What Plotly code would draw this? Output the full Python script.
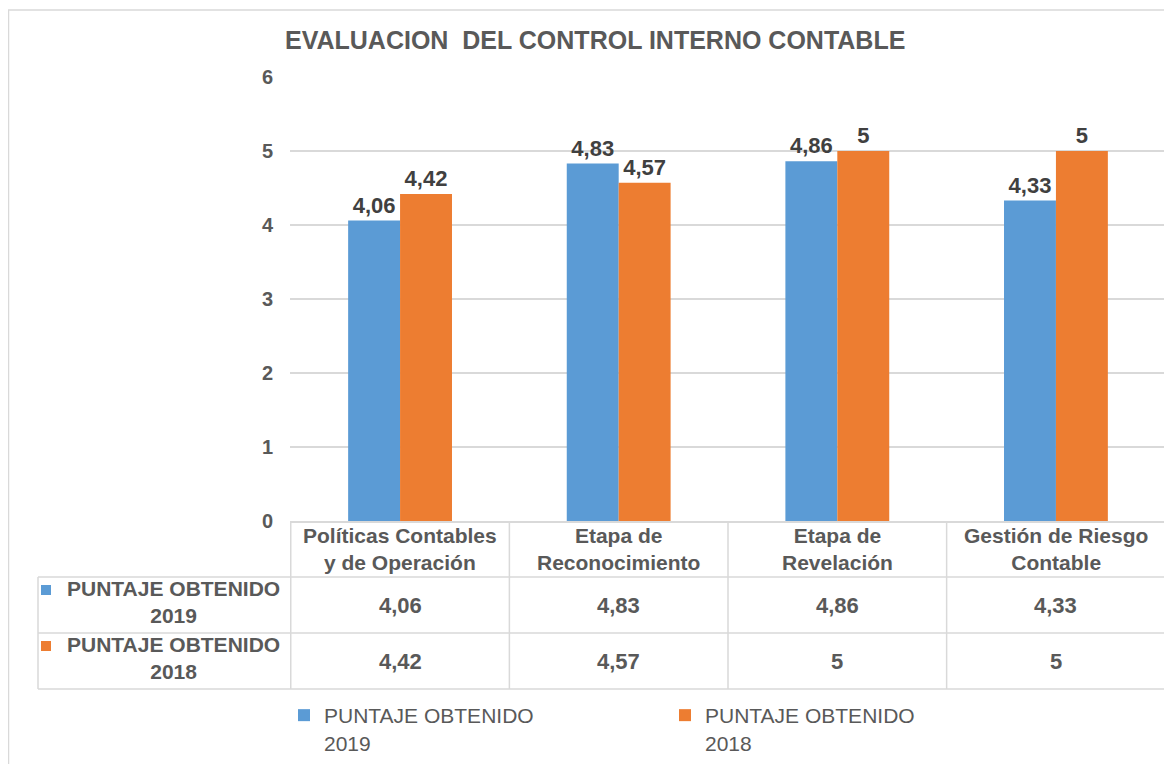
import plotly.graph_objects as go

# ---- data ----
categories = ["Políticas Contables y de Operación", "Etapa de Reconocimiento",
              "Etapa de Revelación", "Gestión de Riesgo Contable"]
category_labels = ["Políticas Contables<br>y de Operación", "Etapa de<br>Reconocimiento",
                   "Etapa de<br>Revelación", "Gestión de Riesgo<br>Contable"]
series_names = ["PUNTAJE OBTENIDO 2019", "PUNTAJE OBTENIDO 2018"]
series_labels = ["PUNTAJE OBTENIDO<br>2019", "PUNTAJE OBTENIDO<br>2018"]
values_2019 = [4.06, 4.83, 4.86, 4.33]
values_2018 = [4.42, 4.57, 5, 5]
y_ticks = [0, 1, 2, 3, 4, 5, 6]
title_text = "EVALUACION\u00a0 DEL CONTROL INTERNO CONTABLE"

# ---- style ----
OFF = 8                      # page body margin of the html page
W, H = 1172 - OFF, 764 - OFF
BLUE, ORANGE = "#5B9BD5", "#ED7D31"
TXT, LBL, GRID = "#595959", "#404040", "#D9D9D9"
FONT = "Liberation Sans, Arial, sans-serif"
FS = 21


def px(x):
    return (x - OFF) / W


def py(y):
    return 1 - (y - OFF) / H


def fmt(v):
    return f"{v:g}".replace(".", ",")


series = [values_2019, values_2018]
colors = [BLUE, ORANGE]

fig = go.Figure()
for label, vals, col in zip(series_labels, series, colors):
    fig.add_trace(go.Bar(
        x=categories, y=vals, name=label, marker_color=col,
        marker_line_width=0,
        text=[fmt(v) for v in vals], textposition="outside",
        textfont=dict(family=FONT, size=22, color=LBL, weight="bold"),
        cliponaxis=False, hoverinfo="skip",
    ))

shapes = []
annotations = []
LINE = dict(color=GRID, width=1.5)

# outer chart border
shapes.append(dict(type="rect", xref="paper", yref="paper",
                   x0=px(8.5), x1=px(1170), y0=py(770), y1=py(10),
                   line=dict(color=GRID, width=1.5)))

# data table grid
row_lines = [577, 633, 689]
for yl in row_lines:
    shapes.append(dict(type="line", xref="paper", yref="paper",
                       x0=px(38), x1=px(1166), y0=py(yl), y1=py(yl), line=LINE))
shapes.append(dict(type="line", xref="paper", yref="paper",
                   x0=px(38), x1=px(38), y0=py(577), y1=py(689), line=LINE))
for i in range(len(categories) + 1):
    shapes.append(dict(type="line", xref="x", yref="paper",
                       x0=i - 0.5, x1=i - 0.5, y0=py(521), y1=py(689), line=LINE))

# header labels
for cat, lab in zip(categories, category_labels):
    annotations.append(dict(xref="x", yref="paper", x=cat, y=py(549), text=lab,
                            showarrow=False, xanchor="center", yanchor="middle",
                            font=dict(family=FONT, size=FS, color=TXT, weight="bold")))

# table values and row headers
row_centers = [605, 661]
for vals, yc, lab, col in zip(series, row_centers, series_labels, colors):
    for cat, v in zip(categories, vals):
        annotations.append(dict(xref="x", yref="paper", x=cat, y=py(yc), text=fmt(v),
                                showarrow=False, xanchor="center", yanchor="middle",
                                font=dict(family=FONT, size=22, color=TXT, weight="bold")))
    annotations.append(dict(xref="paper", yref="paper", x=px(173), y=py(yc - 3), text=lab,
                            showarrow=False, xanchor="center", yanchor="middle",
                            align="center",
                            font=dict(family=FONT, size=FS, color=TXT, weight="bold")))
    shapes.append(dict(type="rect", xref="paper", yref="paper",
                       x0=px(41), x1=px(51), y0=py(yc - 10), y1=py(yc - 20),
                       fillcolor=col, line=dict(width=0)))

# title
annotations.append(dict(xref="paper", yref="paper", x=px(595), y=py(40), text=title_text,
                        showarrow=False, xanchor="center", yanchor="middle",
                        font=dict(family=FONT, size=25, color=TXT, weight="bold")))

fig.update_layout(
    width=W, height=H,
    margin=dict(l=0, r=0, t=0, b=0, autoexpand=False),
    paper_bgcolor="white", plot_bgcolor="white",
    separators=",.",
    barmode="group", bargap=0.525, bargroupgap=0,
    showlegend=True,
    legend=dict(orientation="h", x=px(284), y=py(695), xanchor="left", yanchor="top",
                valign="top",
                entrywidthmode="pixels", entrywidth=336,
                font=dict(family=FONT, size=FS, color=TXT),
                itemclick=False, itemdoubleclick=False),
    xaxis=dict(domain=[px(290), px(1166)], showticklabels=False, showline=True,
               linecolor=GRID, linewidth=1.5, showgrid=False, zeroline=False,
               ticks=""),
    yaxis=dict(domain=[py(521), py(77)], range=[0, 6], tickvals=y_ticks,
               showgrid=True, gridcolor=GRID, gridwidth=1.5, zeroline=False,
               showline=False, ticks="", ticklabelstandoff=16,
               tickfont=dict(family=FONT, size=20, color=TXT, weight="bold")),
    shapes=shapes,
    annotations=annotations,
    font=dict(family=FONT, color=TXT),
)

fig.write_html("out.html")
